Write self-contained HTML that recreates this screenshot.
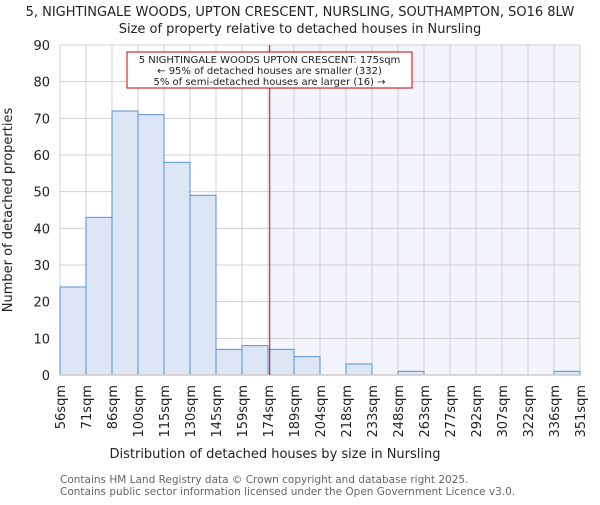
<!DOCTYPE html>
<html><head><meta charset="utf-8"><style>
body{margin:0;background:#fff;}
svg text{font-family:"DejaVu Sans","Liberation Sans",sans-serif;}
</style></head><body>
<svg id="chart" width="600" height="500">
<text x="300" y="16" text-anchor="middle" font-size="13" fill="#222">5, NIGHTINGALE WOODS, UPTON CRESCENT, NURSLING, SOUTHAMPTON, SO16 8LW</text>
<text x="300" y="33" text-anchor="middle" font-size="13" fill="#222">Size of property relative to detached houses in Nursling</text>
<g id="plot"></g>
<text x="275" y="458" text-anchor="middle" font-size="13" fill="#222">Distribution of detached houses by size in Nursling</text>
<text transform="translate(12,210) rotate(-90)" text-anchor="middle" font-size="13" fill="#222">Number of detached properties</text>
<text x="60" y="483" font-size="10.5" fill="#666">Contains HM Land Registry data © Crown copyright and database right 2025.</text>
<text x="60" y="495" font-size="10.5" fill="#666">Contains public sector information licensed under the Open Government Licence v3.0.</text>
</svg>
<script>
const edgeLabels=["56sqm","71sqm","86sqm","100sqm","115sqm","130sqm","145sqm","159sqm","174sqm","189sqm","204sqm","218sqm","233sqm","248sqm","263sqm","277sqm","292sqm","307sqm","322sqm","336sqm","351sqm"];
const edgeValues=[56,71,86,100,115,130,145,159,174,189,204,218,233,248,263,277,292,307,322,336,351];
const counts=[24,43,72,71,58,49,7,8,7,5,0,3,0,1,0,0,0,0,0,1];
const yTicks=[0,10,20,30,40,50,60,70,80,90];
const propertySize=175;
const NS="http://www.w3.org/2000/svg";
const L=60,R=580,T=45,B=375,yMax=90;
const g=document.getElementById('plot');
const bw=(R-L)/counts.length;
function xi(i){return L+i*bw;}
function xv(v){for(let i=0;i<edgeValues.length-1;i++){if(v<=edgeValues[i+1]){return xi(i)+(v-edgeValues[i])/(edgeValues[i+1]-edgeValues[i])*bw;}}return R;}
function y(v){return B-v/yMax*(B-T);}
function mk(t,a){const e=document.createElementNS(NS,t);for(const k in a)e.setAttribute(k,a[k]);g.appendChild(e);return e;}
const px=xv(propertySize);
let e=mk('rect',{x:px,y:T,width:R-px,height:B-T,fill:'#f3f5fc'});


yTicks.forEach(t=>{
 let l=mk('line',{x1:L,x2:R,y1:y(t),y2:y(t),stroke:'#d0d0d0','stroke-width':1});
 
 
 let tx=mk('text',{x:L-10,y:y(t)+5,'text-anchor':'end','font-size':13,fill:'#222'});
 tx.textContent=t;
 
 
});
edgeLabels.forEach((lb,i)=>{
 let l=mk('line',{x1:xi(i),x2:xi(i),y1:T,y2:B,stroke:'#d0d0d0','stroke-width':1});
 
 
 let tx=mk('text',{x:0,y:0,'text-anchor':'end','font-size':13,fill:'#222',transform:`translate(${xi(i)+5},${B+10}) rotate(-90)`});
 tx.textContent=lb;
 
 
});
counts.forEach((c,i)=>{
 if(c<=0)return;
 let r=mk('rect',{x:xi(i),y:y(c),width:bw,height:B-y(c),fill:'#dce6f4',stroke:'#5b8fd5','stroke-width':1});
 
 
});
let ax=mk('line',{x1:L,x2:R,y1:B,y2:B,stroke:'#ccc','stroke-width':1.5});


let rl=mk('line',{x1:px,x2:px,y1:T,y2:B,stroke:'#cc0000','stroke-width':1});


let box=mk('rect',{x:127,y:52,width:285,height:36,fill:'#fff',stroke:'#cc0000','stroke-width':1});


["5 NIGHTINGALE WOODS UPTON CRESCENT: 175sqm","← 95% of detached houses are smaller (332)","5% of semi-detached houses are larger (16) →"].forEach((s,i)=>{
 let t=mk('text',{x:269.5,y:63+i*11,'text-anchor':'middle','font-size':10,fill:'#222'});
 t.textContent=s;
 
 
});
</script>
</body></html>
